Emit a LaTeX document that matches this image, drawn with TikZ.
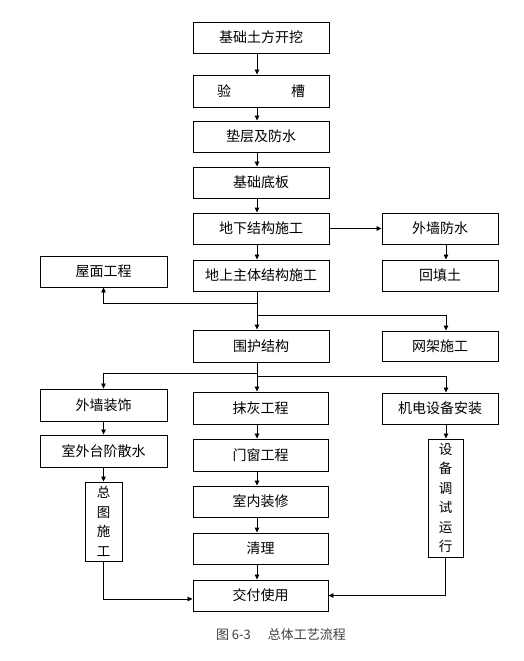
\documentclass[tikz,border=0pt]{standalone}
\usepackage{fontspec}
\newfontfamily\cjk{Noto Sans CJK SC}
\usetikzlibrary{arrows.meta}
\begin{document}
\begin{tikzpicture}[x=1pt,y=-1pt,
  box/.style={draw, line width=0.9pt, inner sep=0pt, align=center,
    font=\cjk\fontsize{14}{16}\selectfont},
  vbox/.style={box, font=\cjk\fontsize{13.5}{19.5}\selectfont},
  arr/.style={line width=0.8pt, -{Triangle[length=5pt,width=4.5pt]}},
  ln/.style={line width=0.8pt}]
\useasboundingbox[fill=white] (0,0) rectangle (523,661);
\coordinate (mx) at (257,0);
\coordinate (rx) at (446,0);
\coordinate (lx) at (103.5,0);
% main column
\node[box, minimum width=136pt, minimum height=31pt] (b1) at (261,37.5) {基础土方开挖};
\node[box, minimum width=136pt, minimum height=32pt] (b2) at (261,91) {验\hspace{60pt}槽};
\node[box, minimum width=136pt, minimum height=31pt] (b3) at (261,136.5) {垫层及防水};
\node[box, minimum width=136pt, minimum height=31pt] (b4) at (261,182.5) {基础底板};
\node[box, minimum width=136pt, minimum height=31pt] (b5) at (261,228.5) {地下结构施工};
\node[box, minimum width=136pt, minimum height=31pt] (b6) at (261,275.5) {地上主体结构施工};
\node[box, minimum width=136pt, minimum height=32pt] (wh) at (261,346) {围护结构};
\node[box, minimum width=135pt, minimum height=32pt] (mh) at (260.5,408) {抹灰工程};
\node[box, minimum width=135pt, minimum height=32pt] (mc) at (260.5,455) {门窗工程};
\node[box, minimum width=135pt, minimum height=31pt] (sn) at (260.5,501.5) {室内装修};
\node[box, minimum width=135pt, minimum height=31pt] (ql) at (260.5,548.5) {清理};
\node[box, minimum width=135pt, minimum height=31pt] (jf) at (260.5,595.5) {交付使用};
% right column
\node[box, minimum width=116pt, minimum height=31pt] (wq) at (440,228.5) {外墙防水};
\node[box, minimum width=116pt, minimum height=31pt] (ht) at (440,275.5) {回填土};
\node[box, minimum width=116pt, minimum height=30pt] (wj) at (440,346) {网架施工};
\node[box, minimum width=116pt, minimum height=31pt] (jd) at (440,408.5) {机电设备安装};
\node[vbox, minimum width=35pt, minimum height=118pt] (ts) at (445.5,498) {设\\备\\调\\试\\运\\行};
% left column
\node[box, minimum width=127pt, minimum height=31pt] (wm) at (103.5,271.5) {屋面工程};
\node[box, minimum width=127pt, minimum height=32pt] (wz) at (103.5,405) {外墙装饰};
\node[box, minimum width=127pt, minimum height=32pt] (sw) at (103.5,451) {室外台阶散水};
\node[vbox, minimum width=37pt, minimum height=79pt] (zt) at (103.5,521.5) {总\\图\\施\\工};
% connectors main
\draw[arr] (b1.south -| mx) -- (b2.north -| mx);
\draw[arr] (b2.south -| mx) -- (b3.north -| mx);
\draw[arr] (b3.south -| mx) -- (b4.north -| mx);
\draw[arr] (b4.south -| mx) -- (b5.north -| mx);
\draw[arr] (b5.south -| mx) -- (b6.north -| mx);
\draw[arr] (b6.south -| mx) -- (wh.north -| mx);
\draw[arr] (wh.south -| mx) -- (mh.north -| mx);
\draw[arr] (mh.south -| mx) -- (mc.north -| mx);
\draw[arr] (mc.south -| mx) -- (sn.north -| mx);
\draw[arr] (sn.south -| mx) -- (ql.north -| mx);
\draw[arr] (ql.south -| mx) -- (jf.north -| mx);
% branches
\draw[arr] (b5.east) -- (wq.west);
\draw[arr] (wq.south -| rx) -- (ht.north -| rx);
\coordinate (j1) at (257,303);
\coordinate (j2) at (257,315);
\coordinate (j3) at (257,373);
\coordinate (j4) at (257,376);
\draw[arr] (j1) -| (wm.south);
\draw[arr] (j2) -| (wj.north -| rx);
\draw[arr] (j3) -| (wz.north);
\draw[arr] (j4) -| (jd.north -| rx);
\draw[arr] (wz.south) -- (sw.north);
\draw[arr] (sw.south) -- (zt.north);
\draw[arr] (jd.south -| rx) -- (ts.north -| rx);
\draw[arr] (zt.south) |- ([yshift=-3.5pt]jf.west);
\draw[arr] (ts.south) |- (jf.east);
% caption
\node[font=\cjk\fontsize{13}{15}\selectfont, text=black!75, inner sep=0pt] (cap) at (281,635) {图 6-3\hspace{17pt}总体工艺流程};
\end{tikzpicture}
\end{document}
